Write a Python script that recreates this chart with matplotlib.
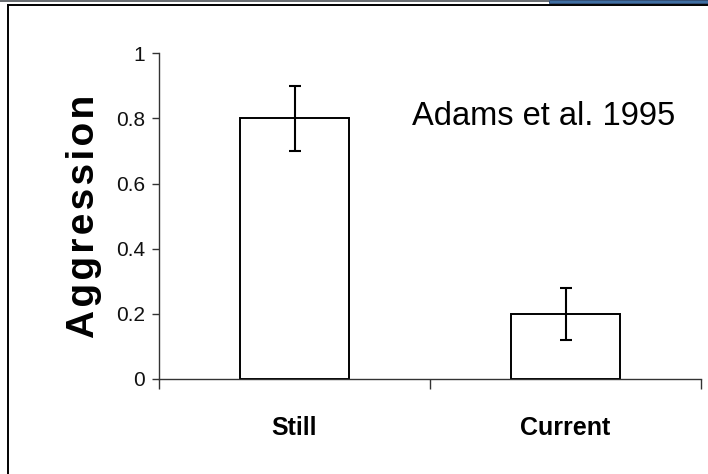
import matplotlib
matplotlib.use("Agg")
import matplotlib.pyplot as plt
from matplotlib.lines import Line2D
from matplotlib.patches import Rectangle

categories = ["Still", "Current"]
aggression = [0.8, 0.2]
errors = [0.1, 0.08]
yticks = [0, 0.2, 0.4, 0.6, 0.8, 1]
ytick_labels = ["0", "0.2", "0.4", "0.6", "0.8", "1"]
note = "Adams et al. 1995"

plt.rcParams["font.family"] = ["Liberation Sans", "DejaVu Sans"]

fig = plt.figure(figsize=(7.08, 4.74), dpi=100)
fig.patch.set_facecolor("white")

# slide frame around the chart
W, H = 708, 474
fig.add_artist(Rectangle((0, 1 - 1.5 / H), 549 / W, 1.5 / H, transform=fig.transFigure,
                         facecolor="#6b6f73", edgecolor="none"))
fig.add_artist(Rectangle((549 / W, 1 - 3 / H), 1 - 549 / W, 3 / H, transform=fig.transFigure,
                         facecolor="#3f6fa3", edgecolor="#1d3c66", linewidth=0.6))
fig.add_artist(Line2D([8 / W, 1], [1 - 4.5 / H, 1 - 4.5 / H], transform=fig.transFigure,
                      color="black", linewidth=1.4))
fig.add_artist(Line2D([8 / W, 8 / W], [0, 1 - 4.5 / H], transform=fig.transFigure,
                      color="black", linewidth=1.4))

ax = fig.add_axes([159 / W, 1 - 379 / H, (701 - 159) / W, (379 - 53.3) / H])
x = list(range(len(categories)))
ax.bar(x, aggression, width=0.4, color="white", edgecolor="black", linewidth=1.4, zorder=2)
ax.errorbar(x, aggression, yerr=errors, fmt="none", ecolor="black", elinewidth=1.5,
            capsize=4.5, capthick=1.5, zorder=3)

ax.set_xlim(-0.5, 1.5)
ax.set_ylim(0, 1)
for s in ["top", "right"]:
    ax.spines[s].set_visible(False)
for s in ["left", "bottom"]:
    ax.spines[s].set_color("#333333")
    ax.spines[s].set_linewidth(1.0)

ax.set_yticks(yticks)
ax.set_yticklabels(ytick_labels)
ax.tick_params(axis="y", direction="out", length=5, width=1, color="#333333", pad=5,
               labelsize=15, labelcolor="#111111")

ax.set_xticks([-0.5, 0.5, 1.5])
ax.set_xticklabels([])
ax.tick_params(axis="x", direction="out", length=7, width=1, color="#333333")
for xi, name in zip(x, categories):
    ax.text(xi, -0.15, name, ha="center", va="center", fontsize=18, fontweight="bold",
            transform=ax.transData, clip_on=False)

ax.text(0.92, 0.807, note, ha="center", va="center", fontsize=23.5, transform=ax.transData)

ax.set_ylabel("A\u200ag\u200ag\u200ar\u200ae\u200as\u200as\u200ai\u200ao\u200an",
              fontsize=28, fontweight="bold", labelpad=10)

fig.savefig("out.png", dpi=100, facecolor="white")
